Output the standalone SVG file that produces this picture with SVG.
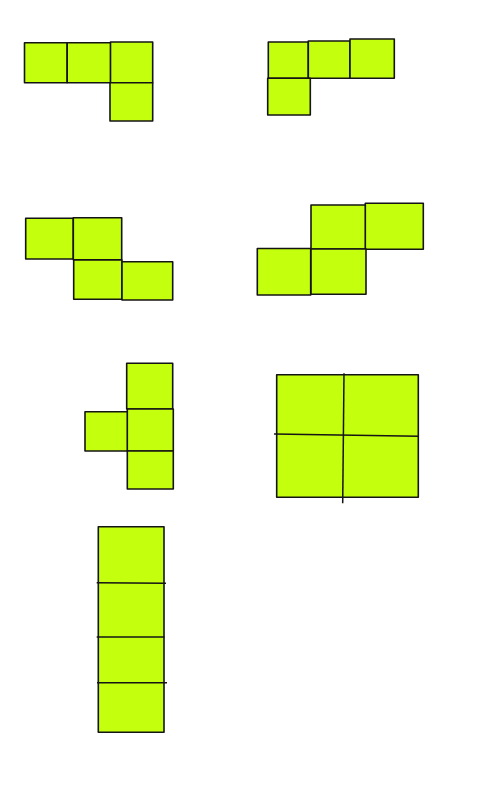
<svg xmlns="http://www.w3.org/2000/svg" width="494" height="788" viewBox="0 0 494 788">
<style>
.sq{fill:#c4ff0e;stroke:#141414;stroke-width:1.6;stroke-linejoin:round}
.ln{stroke:#141414;stroke-width:1.5;fill:none}
</style>
<rect width="494" height="788" fill="#ffffff"/>
<g id="piece-j">
<rect class="sq" x="24.5" y="42.7" width="42.7" height="40"/>
<rect class="sq" x="67.2" y="42.7" width="43.5" height="40"/>
<rect class="sq" x="110.5" y="42" width="42.2" height="40.7"/>
<rect class="sq" x="110" y="82.7" width="42.7" height="38.3"/>
</g>
<g id="piece-l">
<rect class="sq" x="268.3" y="42" width="40" height="36.3"/>
<rect class="sq" x="308.3" y="41" width="41.7" height="37.3"/>
<rect class="sq" x="350" y="39" width="44.3" height="39.3"/>
<rect class="sq" x="267.7" y="78.3" width="42.6" height="36.7"/>
</g>
<g id="piece-z">
<rect class="sq" x="25.7" y="218.3" width="47.6" height="40.7"/>
<rect class="sq" x="73.3" y="217.7" width="48.4" height="42"/>
<rect class="sq" x="73.7" y="260" width="48.3" height="39.3"/>
<rect class="sq" x="122" y="261.7" width="50.7" height="38.3"/>
</g>
<g id="piece-s">
<rect class="sq" x="311" y="205" width="54.7" height="44"/>
<rect class="sq" x="365.3" y="203.3" width="58" height="46"/>
<rect class="sq" x="257.3" y="248.5" width="53.4" height="46.5"/>
<rect class="sq" x="311" y="249" width="55" height="45.3"/>
</g>
<g id="piece-t">
<rect class="sq" x="126.7" y="363.3" width="46" height="45.7"/>
<rect class="sq" x="85" y="411.7" width="42.7" height="39.3"/>
<rect class="sq" x="127.3" y="409" width="46" height="42"/>
<rect class="sq" x="127.3" y="451" width="46" height="38"/>
</g>
<g id="piece-o">
<rect class="sq" x="276.7" y="374.8" width="141.6" height="122.5"/>
<path class="ln" d="M344 373.3 L342.7 503.3"/>
<path class="ln" d="M274 434 L419 436.3"/>
</g>
<g id="piece-i">
<rect class="sq" x="98.3" y="526.7" width="65.7" height="205.6"/>
<path class="ln" d="M96.7 582.7 L166 583.3"/>
<path class="ln" d="M96.7 637 L164.5 637"/>
<path class="ln" d="M97 682.7 L167 682.7"/>
</g>
</svg>
